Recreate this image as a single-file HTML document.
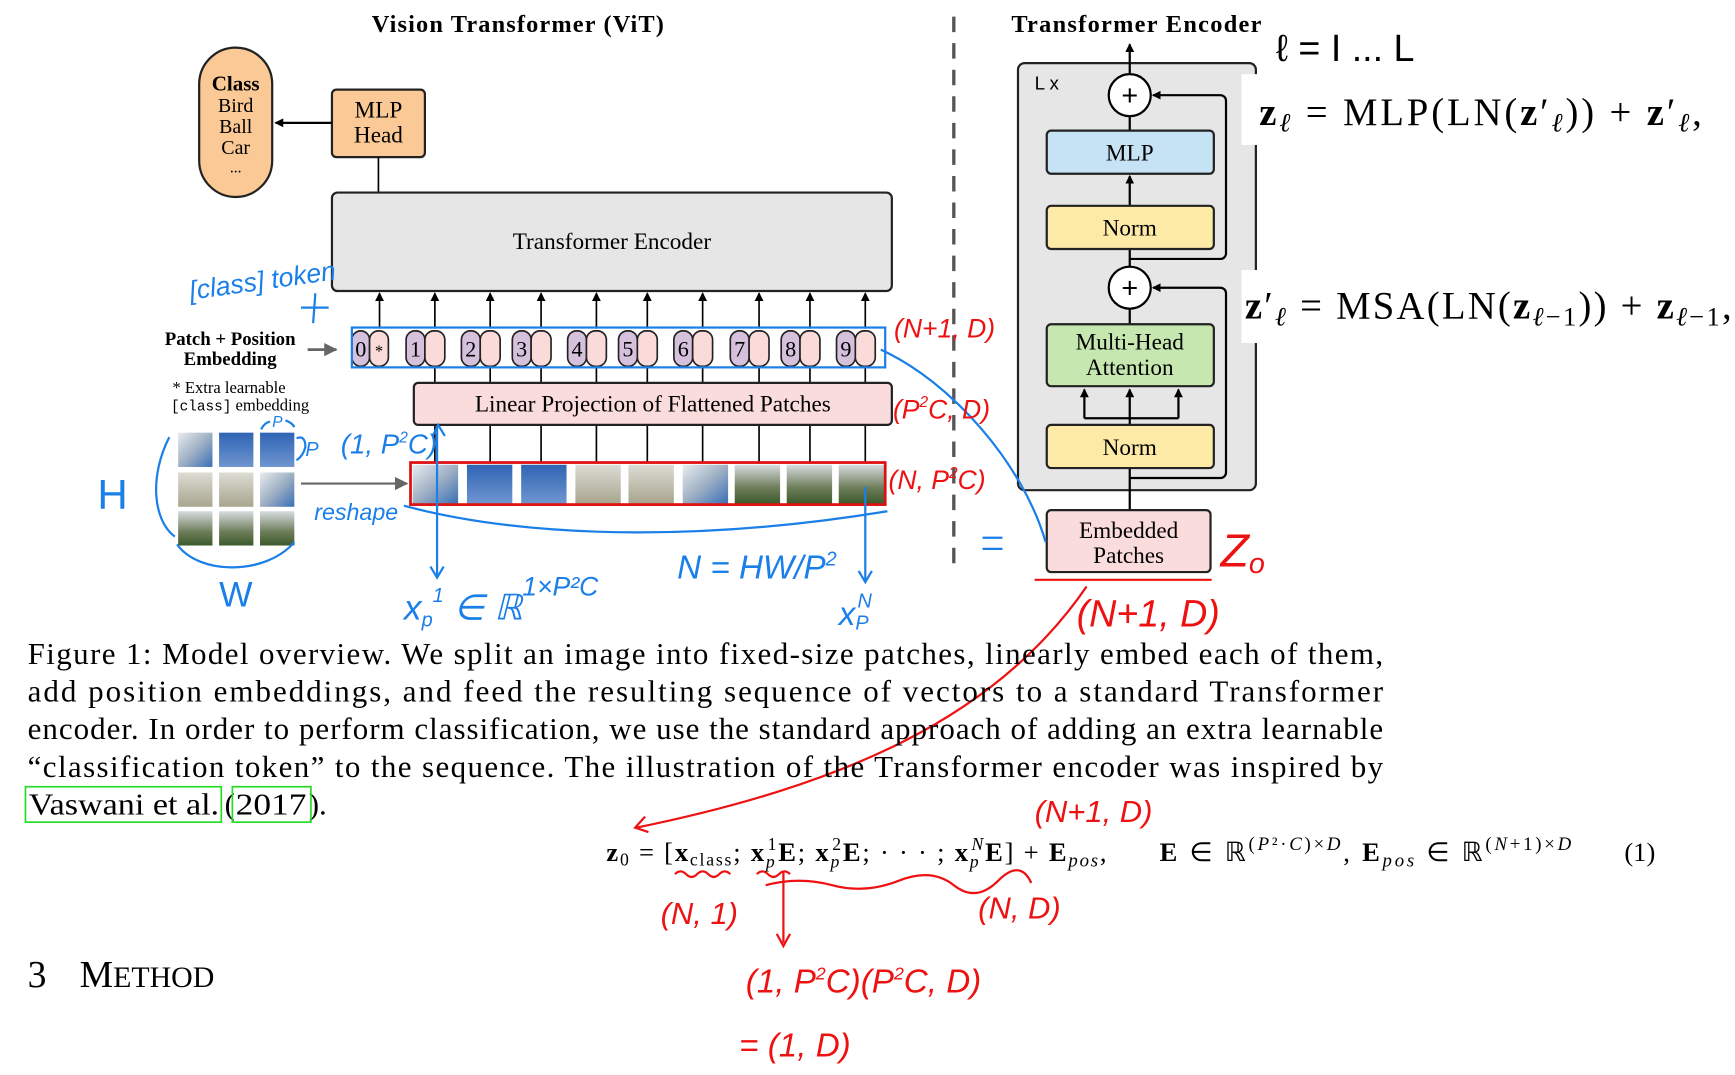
<!DOCTYPE html>
<html><head><meta charset="utf-8"><style>
html,body{margin:0;padding:0;background:#fff;}
svg{display:block;}
.s{font-family:"Liberation Serif",serif;}
.h{font-family:"Liberation Sans",sans-serif;font-style:italic;}
</style></head><body>
<svg width="1735" height="1075" viewBox="0 0 1568 971.5" xmlns="http://www.w3.org/2000/svg">
<defs>
<marker id="a" markerWidth="8" markerHeight="8" refX="7" refY="4" orient="auto" markerUnits="userSpaceOnUse"><path d="M0,0 L8,4 L0,8 z" fill="#000"/></marker>
<marker id="g" markerWidth="12" markerHeight="12" refX="11" refY="6" orient="auto" markerUnits="userSpaceOnUse"><path d="M0,0 L12,6 L0,12 z" fill="#666"/></marker>
<linearGradient id="p1" x1="0" y1="0" x2="1" y2="1"><stop offset="0" stop-color="#e8ecef"/><stop offset="0.5" stop-color="#9fb0c4"/><stop offset="1" stop-color="#3a6fb5"/></linearGradient>
<linearGradient id="p2" x1="0" y1="0" x2="0" y2="1"><stop offset="0" stop-color="#2f64b4"/><stop offset="1" stop-color="#6f95cf"/></linearGradient>
<linearGradient id="p3" x1="0" y1="0" x2="0" y2="1"><stop offset="0" stop-color="#dcdcd4"/><stop offset="1" stop-color="#a8a58e"/></linearGradient>
<linearGradient id="p4" x1="0" y1="0" x2="0" y2="1"><stop offset="0" stop-color="#d8dcdf"/><stop offset="0.6" stop-color="#6d7d5a"/><stop offset="1" stop-color="#3c5a2a"/></linearGradient>
</defs>

<!-- titles -->
<text class="s" x="468" y="29" font-size="22" font-weight="bold" text-anchor="middle" textLength="264">Vision Transformer (ViT)</text>
<text class="s" x="1027" y="29" font-size="22" font-weight="bold" text-anchor="middle" textLength="226">Transformer Encoder</text>
<line x1="862" y1="15" x2="862" y2="512" stroke="#555" stroke-width="3" stroke-dasharray="14,10"/>
<text class="h" x="1153" y="55" font-size="34" style="font-style:normal">ℓ = I ... L</text>

<!-- class oval -->
<rect x="180" y="43" width="66" height="135" rx="33" fill="#fbc995" stroke="#222" stroke-width="2"/>
<text class="s" x="213" y="82" font-size="19" font-weight="bold" text-anchor="middle">Class</text>
<text class="s" x="213" y="101" font-size="18" text-anchor="middle">Bird</text>
<text class="s" x="213" y="120" font-size="18" text-anchor="middle">Ball</text>
<text class="s" x="213" y="139" font-size="18" text-anchor="middle">Car</text>
<text class="s" x="213" y="156" font-size="14" text-anchor="middle">...</text>
<rect x="300" y="81" width="84" height="61" rx="4" fill="#fbc995" stroke="#222" stroke-width="2"/>
<text class="s" x="342" y="106" font-size="21" text-anchor="middle">MLP</text>
<text class="s" x="342" y="129" font-size="21" text-anchor="middle">Head</text>
<line x1="300" y1="111" x2="249" y2="111" stroke="#000" stroke-width="2" marker-end="url(#a)"/>
<line x1="342" y1="142" x2="342" y2="175" stroke="#000" stroke-width="1.5"/>

<!-- transformer encoder box -->
<rect x="300" y="174" width="506" height="89" rx="5" fill="#e6e6e6" stroke="#222" stroke-width="2"/>
<text class="s" x="553" y="225" font-size="21" text-anchor="middle">Transformer Encoder</text>

<g stroke="#000" stroke-width="1.5">
<line x1="343" y1="297" x2="343" y2="265" marker-end="url(#a)"/>
<line x1="393" y1="297" x2="393" y2="265" marker-end="url(#a)"/>
<line x1="443" y1="297" x2="443" y2="265" marker-end="url(#a)"/>
<line x1="489" y1="297" x2="489" y2="265" marker-end="url(#a)"/>
<line x1="539" y1="297" x2="539" y2="265" marker-end="url(#a)"/>
<line x1="585" y1="297" x2="585" y2="265" marker-end="url(#a)"/>
<line x1="635" y1="297" x2="635" y2="265" marker-end="url(#a)"/>
<line x1="686" y1="297" x2="686" y2="265" marker-end="url(#a)"/>
<line x1="732" y1="297" x2="732" y2="265" marker-end="url(#a)"/>
<line x1="782" y1="297" x2="782" y2="265" marker-end="url(#a)"/>
<line x1="393" y1="330" x2="393" y2="346"/><line x1="443" y1="330" x2="443" y2="346"/><line x1="489" y1="330" x2="489" y2="346"/><line x1="539" y1="330" x2="539" y2="346"/><line x1="585" y1="330" x2="585" y2="346"/><line x1="635" y1="330" x2="635" y2="346"/><line x1="686" y1="330" x2="686" y2="346"/><line x1="732" y1="330" x2="732" y2="346"/><line x1="782" y1="330" x2="782" y2="346"/>
<line x1="393" y1="418" x2="393" y2="384"/><line x1="443" y1="418" x2="443" y2="384"/><line x1="489" y1="418" x2="489" y2="384"/><line x1="539" y1="418" x2="539" y2="384"/><line x1="585" y1="418" x2="585" y2="384"/><line x1="635" y1="418" x2="635" y2="384"/><line x1="686" y1="418" x2="686" y2="384"/><line x1="732" y1="418" x2="732" y2="384"/><line x1="782" y1="418" x2="782" y2="384"/>
</g>

<!-- tokens -->
<g stroke="#222" stroke-width="1.5">
<rect x="318" y="299" width="16" height="32" rx="8" fill="#d5c1dc"/><rect x="334" y="299" width="17" height="32" rx="8" fill="#fbdada"/>
<rect x="367" y="299" width="17" height="32" rx="8" fill="#d5c1dc"/><rect x="384" y="299" width="18" height="32" rx="8" fill="#fbdada"/>
<rect x="417" y="299" width="17" height="32" rx="8" fill="#d5c1dc"/><rect x="434" y="299" width="18" height="32" rx="8" fill="#fbdada"/>
<rect x="463" y="299" width="17" height="32" rx="8" fill="#d5c1dc"/><rect x="480" y="299" width="18" height="32" rx="8" fill="#fbdada"/>
<rect x="513" y="299" width="17" height="32" rx="8" fill="#d5c1dc"/><rect x="530" y="299" width="18" height="32" rx="8" fill="#fbdada"/>
<rect x="559" y="299" width="17" height="32" rx="8" fill="#d5c1dc"/><rect x="576" y="299" width="18" height="32" rx="8" fill="#fbdada"/>
<rect x="609" y="299" width="17" height="32" rx="8" fill="#d5c1dc"/><rect x="626" y="299" width="18" height="32" rx="8" fill="#fbdada"/>
<rect x="660" y="299" width="17" height="32" rx="8" fill="#d5c1dc"/><rect x="677" y="299" width="18" height="32" rx="8" fill="#fbdada"/>
<rect x="706" y="299" width="17" height="32" rx="8" fill="#d5c1dc"/><rect x="723" y="299" width="18" height="32" rx="8" fill="#fbdada"/>
<rect x="756" y="299" width="17" height="32" rx="8" fill="#d5c1dc"/><rect x="773" y="299" width="18" height="32" rx="8" fill="#fbdada"/>
</g>
<g class="s" font-size="20" text-anchor="middle">
<text x="326" y="322">0</text><text x="342.5" y="322" font-size="15">*</text>
<text x="375.5" y="322">1</text><text x="425.5" y="322">2</text><text x="471.5" y="322">3</text><text x="521.5" y="322">4</text><text x="567.5" y="322">5</text><text x="617.5" y="322">6</text><text x="668.5" y="322">7</text><text x="714.5" y="322">8</text><text x="764.5" y="322">9</text>
</g>
<rect x="318" y="296" width="482" height="36" fill="none" stroke="#1a7fe8" stroke-width="2"/>

<!-- projection -->
<rect x="374" y="346" width="432" height="38" rx="4" fill="#fbdcdc" stroke="#222" stroke-width="2"/>
<text class="s" x="590" y="372" font-size="21" text-anchor="middle">Linear Projection of Flattened Patches</text>

<!-- left labels -->
<text class="s" x="208" y="312" font-size="17" font-weight="bold" text-anchor="middle">Patch + Position</text>
<text class="s" x="208" y="330" font-size="17" font-weight="bold" text-anchor="middle">Embedding</text>
<line x1="278" y1="316" x2="304" y2="316" stroke="#666" stroke-width="2.5" marker-end="url(#g)"/>
<text class="s" x="207" y="355" font-size="15" text-anchor="middle">* Extra learnable</text>
<text class="s" x="217" y="371" font-size="15" text-anchor="middle"><tspan font-family="Liberation Mono" font-size="13">[class]</tspan> embedding</text>

<!-- image grid -->
<g>
<rect x="161" y="391" width="31" height="31" fill="url(#p1)"/><rect x="198" y="391" width="31" height="31" fill="url(#p2)"/><rect x="235" y="391" width="31" height="31" fill="url(#p2)"/>
<rect x="161" y="427" width="31" height="31" fill="url(#p3)"/><rect x="198" y="427" width="31" height="31" fill="url(#p3)"/><rect x="235" y="427" width="31" height="31" fill="url(#p1)"/>
<rect x="161" y="462" width="31" height="31" fill="url(#p4)"/><rect x="198" y="462" width="31" height="31" fill="url(#p4)"/><rect x="235" y="462" width="31" height="31" fill="url(#p4)"/>
</g>
<line x1="272" y1="437" x2="368" y2="437" stroke="#666" stroke-width="2" marker-end="url(#g)"/>

<!-- patch strip -->
<rect x="371" y="418" width="429" height="38" fill="#fff"/>
<rect x="373" y="420" width="41" height="35" fill="url(#p1)"/>
<rect x="422" y="420" width="41" height="35" fill="url(#p2)"/>
<rect x="471" y="420" width="41" height="35" fill="url(#p2)"/>
<rect x="520" y="420" width="41" height="35" fill="url(#p3)"/>
<rect x="568" y="420" width="41" height="35" fill="url(#p3)"/>
<rect x="617" y="420" width="41" height="35" fill="url(#p1)"/>
<rect x="664" y="420" width="41" height="35" fill="url(#p4)"/>
<rect x="711" y="420" width="41" height="35" fill="url(#p4)"/>
<rect x="758" y="420" width="41" height="35" fill="url(#p4)"/>
<rect x="371" y="418" width="429" height="38" fill="none" stroke="#d11" stroke-width="2.5"/>

<!-- right encoder -->
<rect x="920" y="57" width="215" height="386" rx="6" fill="#e6e6e6" stroke="#222" stroke-width="2"/>
<text x="935" y="81" font-family="Liberation Sans" font-size="17">L x</text>
<line x1="1021" y1="67" x2="1021" y2="40" stroke="#000" stroke-width="2" marker-end="url(#a)"/>
<g stroke="#000" stroke-width="2" fill="none">
<line x1="1021" y1="461" x2="1021" y2="423"/>
<path d="M1021,432 H1103 a5,5 0 0 0 5,-5 V265 a5,5 0 0 0 -5,-5 H1042" marker-end="url(#a)"/>
<line x1="1021" y1="384" x2="1021" y2="352" marker-end="url(#a)"/>
<path d="M980,378 H1065"/>
<line x1="980" y1="378" x2="980" y2="352" marker-end="url(#a)"/>
<line x1="1065" y1="378" x2="1065" y2="352" marker-end="url(#a)"/>
<line x1="1021" y1="349" x2="1021" y2="279"/>
<line x1="1021" y1="241" x2="1021" y2="225"/>
<path d="M1021,234 H1103 a5,5 0 0 0 5,-5 V91 a5,5 0 0 0 -5,-5 H1042" marker-end="url(#a)"/>
<line x1="1021" y1="186" x2="1021" y2="159" marker-end="url(#a)"/>
<line x1="1021" y1="118" x2="1021" y2="105"/>
</g>
<circle cx="1021" cy="86" r="19" fill="#fff" stroke="#000" stroke-width="2"/>
<text x="1021" y="95" font-family="Liberation Sans" font-size="26" text-anchor="middle">+</text>
<circle cx="1021" cy="260" r="19" fill="#fff" stroke="#000" stroke-width="2"/>
<text x="1021" y="269" font-family="Liberation Sans" font-size="26" text-anchor="middle">+</text>
<rect x="946" y="118" width="151" height="39" rx="4" fill="#c6e3f6" stroke="#222" stroke-width="2"/>
<text class="s" x="1021" y="145" font-size="21" text-anchor="middle">MLP</text>
<rect x="946" y="186" width="151" height="39" rx="4" fill="#fdeaa6" stroke="#222" stroke-width="2"/>
<text class="s" x="1021" y="213" font-size="21" text-anchor="middle">Norm</text>
<rect x="946" y="293" width="151" height="56" rx="4" fill="#c6e8b0" stroke="#222" stroke-width="2"/>
<text class="s" x="1021" y="316" font-size="21" text-anchor="middle">Multi-Head</text>
<text class="s" x="1021" y="339" font-size="21" text-anchor="middle">Attention</text>
<rect x="946" y="384" width="151" height="39" rx="4" fill="#fdeaa6" stroke="#222" stroke-width="2"/>
<text class="s" x="1021" y="411" font-size="21" text-anchor="middle">Norm</text>
<rect x="946" y="461" width="148" height="56" rx="4" fill="#fbdcdc" stroke="#222" stroke-width="2"/>
<text class="s" x="1020" y="486" font-size="21" text-anchor="middle">Embedded</text>
<text class="s" x="1020" y="509" font-size="21" text-anchor="middle">Patches</text>

<!-- equations right -->
<rect x="1122" y="67" width="446" height="64" fill="#fff"/>
<rect x="1122" y="244" width="446" height="66" fill="#fff"/>
<text class="s" x="1138" y="113" font-size="35" textLength="400" lengthAdjust="spacing"><tspan font-weight="bold">z</tspan><tspan font-style="italic" font-size="24" dy="6">ℓ</tspan><tspan dy="-6"> = MLP(LN(</tspan><tspan font-weight="bold">z</tspan>′<tspan font-style="italic" font-size="24" dy="6">ℓ</tspan><tspan dy="-6">)) + </tspan><tspan font-weight="bold">z</tspan>′<tspan font-style="italic" font-size="24" dy="6">ℓ</tspan><tspan dy="-6">,</tspan></text>
<text class="s" x="1125" y="288" font-size="35" textLength="440" lengthAdjust="spacing"><tspan font-weight="bold">z</tspan>′<tspan font-style="italic" font-size="24" dy="6">ℓ</tspan><tspan dy="-6"> = MSA(LN(</tspan><tspan font-weight="bold">z</tspan><tspan font-size="24" dy="6"><tspan font-style="italic">ℓ</tspan>−1</tspan><tspan dy="-6">)) + </tspan><tspan font-weight="bold">z</tspan><tspan font-size="24" dy="6"><tspan font-style="italic">ℓ</tspan>−1</tspan><tspan dy="-6">,</tspan></text>

<!-- blue annotations -->
<g stroke="#1a7fe8" stroke-width="2" fill="none">
<path d="M796,316 C860,345 925,420 945,490"/>
<path d="M153,395 C135,430 138,470 158,485"/>
<path d="M160,492 C180,520 240,520 266,490"/>
<path d="M365,457 C450,480 600,495 802,462"/>
<line x1="395" y1="385" x2="395" y2="520"/><path d="M389,512 L395,522 L401,512"/>
<line x1="782" y1="440" x2="782" y2="525"/><path d="M776,516 L782,526 L788,516"/>
<path d="M391,394 L396,384 L402,394"/>
<path d="M236,388 q3,-6 8,-7 M258,380 q6,2 8,6 M268,396 q8,-3 8,8 q-2,8 -8,12"/>
<line x1="888" y1="486" x2="906" y2="486"/><line x1="888" y1="496" x2="906" y2="496"/>
<line x1="285" y1="265" x2="283" y2="292"/><line x1="272" y1="278" x2="297" y2="278"/>
</g>
<g class="h" fill="#1a7fe8">
<text x="170" y="262" font-size="24" transform="rotate(-8 235 250)">[class] token</text>
<text x="88" y="460" font-size="38" style="font-style:normal">H</text>
<text x="198" y="548" font-size="32" style="font-style:normal">W</text>
<text x="246" y="386" font-size="14">P</text>
<text x="276" y="412" font-size="18">P</text>
<text x="308" y="410" font-size="25">(1, P<tspan font-size="14" dy="-10">2</tspan><tspan dy="10">C)</tspan></text>
<text x="284" y="470" font-size="21">reshape</text>
<text x="365" y="560" font-size="32">x<tspan font-size="18" dy="6">p</tspan><tspan font-size="18" dy="-22">1</tspan><tspan dy="16"> ∈ ℝ</tspan><tspan font-size="24" dy="-22">1×P²C</tspan></text>
<text x="612" y="523" font-size="30">N = HW/P<tspan font-size="18" dy="-12">2</tspan></text>
<text x="758" y="565" font-size="30">x<tspan font-size="18" dy="4">P</tspan><tspan font-size="18" dx="-10" dy="-20">N</tspan></text>
</g>

<!-- red annotations -->
<g stroke="#e11" stroke-width="2" fill="none">
<line x1="935" y1="524" x2="1095" y2="524"/>
<path d="M982,530 C900,650 760,710 575,748"/>
<path d="M583,738 L574,748 L586,752"/>
<path d="M610,790 q5,-5 10,0 t10,0 t10,0 t10,0 t10,0"/>
<path d="M684,790 q5,-5 10,0 t10,0 t10,0 M692,800 q30,-8 60,0 t60,-4 t50,4 t40,-4 t30,2"/>
<line x1="708" y1="788" x2="708" y2="852"/><path d="M702,844 L708,855 L714,844"/>
</g>
<g class="h" fill="#e11">
<text x="808" y="305" font-size="24">(N+1, D)</text>
<text x="807" y="378" font-size="24">(P<tspan font-size="14" dy="-10">2</tspan><tspan dy="10">C, D)</tspan></text>
<text x="803" y="442" font-size="24">(N, P<tspan font-size="14" dy="-10">2</tspan><tspan dy="10">C)</tspan></text>
<text x="1103" y="512" font-size="42">Z<tspan font-size="26" dy="6">o</tspan></text>
<text x="973" y="566" font-size="34">(N+1, D)</text>
<text x="935" y="743" font-size="28">(N+1, D)</text>
<text x="597" y="835" font-size="28">(N, 1)</text>
<text x="884" y="830" font-size="28">(N, D)</text>
<text x="674" y="897" font-size="30">(1, P<tspan font-size="16" dy="-12">2</tspan><tspan dy="12">C)(P</tspan><tspan font-size="16" dy="-12">2</tspan><tspan dy="12">C, D)</tspan></text>
<text x="668" y="955" font-size="30">= (1, D)</text>
</g>

<!-- caption -->
<g class="s" font-size="28">
<text x="25" y="600" textLength="1225" lengthAdjust="spacing">Figure 1: Model overview. We split an image into fixed-size patches, linearly embed each of them,</text>
<text x="25" y="634" textLength="1225" lengthAdjust="spacing">add position embeddings, and feed the resulting sequence of vectors to a standard Transformer</text>
<text x="25" y="668" textLength="1225" lengthAdjust="spacing">encoder. In order to perform classification, we use the standard approach of adding an extra learnable</text>
<text x="25" y="702" textLength="1225" lengthAdjust="spacing">“classification token” to the sequence. The illustration of the Transformer encoder was inspired by</text>
<text x="26" y="736" textLength="172" lengthAdjust="spacingAndGlyphs">Vaswani et al.</text>
<text x="203" y="736">(</text>
<text x="213" y="736" textLength="64" lengthAdjust="spacingAndGlyphs">2017</text>
<text x="279" y="736">).</text>
</g>
<rect x="23" y="711" width="177" height="32" fill="none" stroke="#2d2" stroke-width="1.5"/>
<rect x="210" y="711" width="71" height="32" fill="none" stroke="#2d2" stroke-width="1.5"/>

<!-- equation 1 -->
<g class="s" font-size="24">
<text x="548" y="778" textLength="452" lengthAdjust="spacing"><tspan font-weight="bold">z</tspan><tspan font-size="16" dy="4">0</tspan><tspan dy="-4"> = [</tspan><tspan font-weight="bold">x</tspan><tspan font-size="16" dy="4">class</tspan><tspan dy="-4">; </tspan><tspan font-weight="bold">x</tspan><tspan font-size="16" font-style="italic" dy="6">p</tspan><tspan font-size="16" dx="-8" dy="-16">1</tspan><tspan font-weight="bold" dy="10">E</tspan>; <tspan font-weight="bold">x</tspan><tspan font-size="16" font-style="italic" dy="6">p</tspan><tspan font-size="16" dx="-8" dy="-16">2</tspan><tspan font-weight="bold" dy="10">E</tspan>; · · · ; <tspan font-weight="bold">x</tspan><tspan font-size="16" font-style="italic" dy="6">p</tspan><tspan font-size="16" font-style="italic" dx="-8" dy="-16">N</tspan><tspan font-weight="bold" dy="10">E</tspan>] + <tspan font-weight="bold">E</tspan><tspan font-size="17" font-style="italic" dy="5">pos</tspan><tspan dy="-5">,</tspan></text>
<text x="1048" y="778" textLength="372" lengthAdjust="spacing"><tspan font-weight="bold">E</tspan> ∈ ℝ<tspan font-size="17" dy="-10">(<tspan font-style="italic">P</tspan>²·<tspan font-style="italic">C</tspan>)×<tspan font-style="italic">D</tspan></tspan><tspan dy="10">, </tspan><tspan font-weight="bold">E</tspan><tspan font-size="17" font-style="italic" dy="5">pos</tspan><tspan dy="-5"> ∈ ℝ</tspan><tspan font-size="17" dy="-10">(<tspan font-style="italic">N</tspan>+1)×<tspan font-style="italic">D</tspan></tspan></text>
<text x="1468" y="778">(1)</text>
</g>

<text class="s" x="25" y="892" font-size="34">3<tspan dx="30">M</tspan><tspan font-size="27">ETHOD</tspan></text>
</svg>
</body></html>
